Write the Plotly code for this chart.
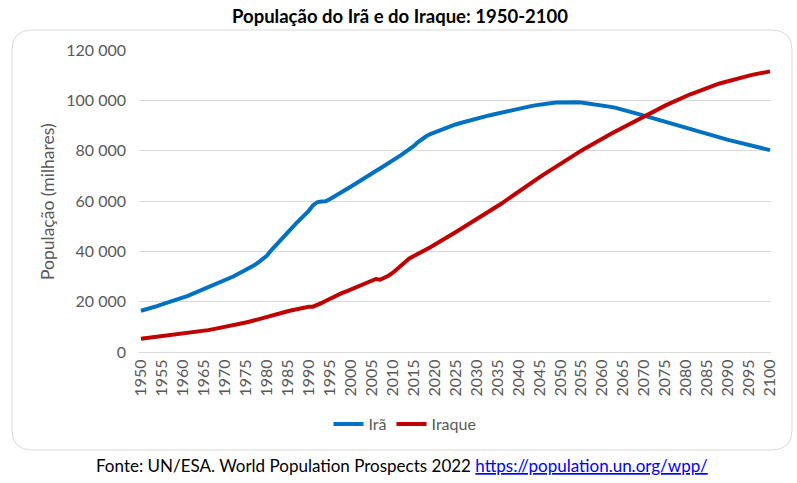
import plotly.graph_objects as go

years = list(range(1950, 2101))

ira = [
    16400, 16800, 17300, 17800, 18300, 18900, 19400, 19900, 20400, 21000,  # 1950-1959
    21600, 22200, 22900, 23600, 24200, 24900, 25500, 26200, 26900, 27700,  # 1960-1969
    28500, 29200, 30000, 30900, 31700, 32600, 33500, 34500, 35600, 36800,  # 1970-1979
    38200, 40300, 42000, 43700, 45400, 47200, 49300, 51100, 52600, 54300,  # 1980-1989
    56100, 58200, 59500, 59800, 59900, 60700, 61600, 62600, 63600, 64700,  # 1990-1999
    65700, 66800, 67600, 68600, 69700, 70800, 71900, 72900, 73900, 74800,  # 2000-2009
    75800, 77000, 78200, 79400, 80500, 81800, 83300, 84600, 85700, 86600,  # 2010-2019
    87300, 87900, 88600, 89200, 89800, 90400, 90900, 91400, 91800, 92200,  # 2020-2029
    92600, 93100, 93500, 94000, 94400, 94800, 95200, 95600, 96000, 96400,  # 2030-2039
    96700, 97100, 97400, 97700, 98000, 98300, 98500, 98700, 98900, 99100,  # 2040-2049
    99200, 99300, 99300, 99300, 99200, 99100, 98900, 98700, 98500, 98300,  # 2050-2059
    98000, 97700, 97400, 97100, 96700, 96300, 95900, 95400, 94900, 94400,  # 2060-2069
    93900, 93400, 92900, 92400, 91900, 91400, 90900, 90400, 89900, 89400,  # 2070-2079
    88900, 88400, 87900, 87400, 86900, 86400, 86000, 85500, 85100, 84700,  # 2080-2089
    84300, 83900, 83500, 83100, 82700, 82300, 81800, 81400, 81000, 80600,  # 2090-2099
    80200,                                                                 # 2100
]

iraque = [
    5300, 5500, 5700, 5900, 6100, 6300, 6500, 6700, 6900, 7000,            # 1950-1959
    7200, 7400, 7600, 7900, 8100, 8400, 8700, 9000, 9300, 9700,            # 1960-1969
    10000, 10300, 10600, 10900, 11300, 11700, 12100, 12600, 13000, 13400,  # 1970-1979
    13800, 14200, 14700, 15300, 15800, 16200, 16600, 17000, 17300, 17700,  # 1980-1989
    18000, 18000, 18500, 19400, 20300, 21200, 22100, 22800, 23500, 24100,  # 1990-1999
    24800, 25600, 26400, 27200, 28000, 28700, 29000, 28700, 29300, 30300,  # 2000-2009
    31400, 32700, 34100, 35800, 37200, 38000, 38900, 39700, 40600, 41600,  # 2010-2019
    42600, 43500, 44500, 45600, 46600, 47600, 48600, 49600, 50600, 51600,  # 2020-2029
    52600, 53600, 54700, 55700, 56700, 57800, 59000, 60200, 61400, 62600,  # 2030-2039
    63700, 64800, 66000, 67100, 68300, 69400, 70500, 71600, 72700, 73800,  # 2040-2049
    74900, 75900, 77000, 78000, 79000, 80000, 81000, 82000, 82900, 83900,  # 2050-2059
    84800, 85700, 86600, 87500, 88400, 89300, 90200, 91000, 91900, 92800,  # 2060-2069
    93600, 94500, 95400, 96200, 97100, 97900, 98700, 99500, 100200, 101000,  # 2070-2079
    101700, 102400, 103000, 103700, 104300, 104900, 105500, 106100, 106700, 107200,  # 2080-2089
    107700, 108200, 108600, 109000, 109400, 109800, 110200, 110500, 110900, 111200,  # 2090-2099
    111500,                                                                # 2100
]

x_ticks = list(range(1950, 2101, 5))
y_ticks = [0, 20000, 40000, 60000, 80000, 100000, 120000]

title_text = "<b>População do Irã e do Iraque: 1950-2100</b>"
y_title = "População (milhares)"
source_text = ("Fonte: UN/ESA. World Population Prospects 2022 "
               "<a href='https://population.un.org/wpp/' "
               "style='color:#0000ff;text-decoration:underline'>https://population.un.org/wpp/</a>")

W, H = 797, 483
L, R, T, B = 139, 771, 50, 352  # plot area in pixels

FONT = "Lato"
GRAY = "#595959"

fig = go.Figure()
fig.add_trace(go.Scatter(x=years, y=ira, name="Irã", mode="lines",
                         line=dict(color="#0070C0", width=4)))
fig.add_trace(go.Scatter(x=years, y=iraque, name="Iraque", mode="lines",
                         line=dict(color="#C00000", width=4)))


def px(x):
    return (x - L) / (R - L)


def py(y):
    return (B - y) / (B - T)


# rounded chart-area border
bl, bt, br, bb, r = 12, 30, 792, 450, 20
path = (f"M {px(bl + r)},{py(bt)} L {px(br - r)},{py(bt)} "
        f"Q {px(br)},{py(bt)} {px(br)},{py(bt + r)} "
        f"L {px(br)},{py(bb - r)} Q {px(br)},{py(bb)} {px(br - r)},{py(bb)} "
        f"L {px(bl + r)},{py(bb)} Q {px(bl)},{py(bb)} {px(bl)},{py(bb - r)} "
        f"L {px(bl)},{py(bt + r)} Q {px(bl)},{py(bt)} {px(bl + r)},{py(bt)} Z")
fig.add_shape(type="path", path=path, xref="paper", yref="paper",
              line=dict(color="#d9d9d9", width=1), layer="below")

fig.add_annotation(text=y_title, textangle=-90, xref="paper", yref="paper",
                   x=px(47), y=py(202), xanchor="center", yanchor="middle",
                   showarrow=False,
                   font=dict(family=FONT, size=17.5, color=GRAY))
fig.add_annotation(text=source_text, xref="paper", yref="paper",
                   x=px(402), y=py(465), xanchor="center", yanchor="middle",
                   showarrow=False,
                   font=dict(family=FONT, size=17, color="#000000"))

yr_per_px = 150 / (770 - 141)
fig.update_layout(
    width=W, height=H,
    margin=dict(l=L, r=W - R, t=T, b=H - B, autoexpand=False),
    paper_bgcolor="white", plot_bgcolor="white",
    separators=", ",
    title=dict(text=title_text, x=400 / W, xref="container", xanchor="center",
               y=1 - 17 / H, yref="container", yanchor="middle",
               font=dict(family=FONT, size=18.5, color="#000000")),
    xaxis=dict(range=[1950 - (141 - L) * yr_per_px, 2100 + (R - 770) * yr_per_px],
               tickvals=x_ticks, ticktext=[str(v) for v in x_ticks], tickangle=-90,
               showgrid=False, zeroline=False, showline=True, linecolor="#d9d9d9",
               ticks="", tickfont=dict(family=FONT, size=16, color=GRAY)),
    yaxis=dict(range=[0, 120000], tickvals=y_ticks, tickformat=",d",
               showgrid=True, gridcolor="#d9d9d9", gridwidth=1, zeroline=False,
               showline=False, ticks="", ticklabelstandoff=12,
               tickfont=dict(family=FONT, size=16, color=GRAY)),
    showlegend=True,
    legend=dict(orientation="h", xref="container", yref="container",
                x=405 / W, xanchor="center", y=1 - 424 / H, yanchor="middle",
                font=dict(family=FONT, size=16, color=GRAY),
                itemwidth=30, bgcolor="rgba(0,0,0,0)"),
)

fig.write_html("out.html", config={"displayModeBar": False},
               post_script="document.body.style.margin='0';")
